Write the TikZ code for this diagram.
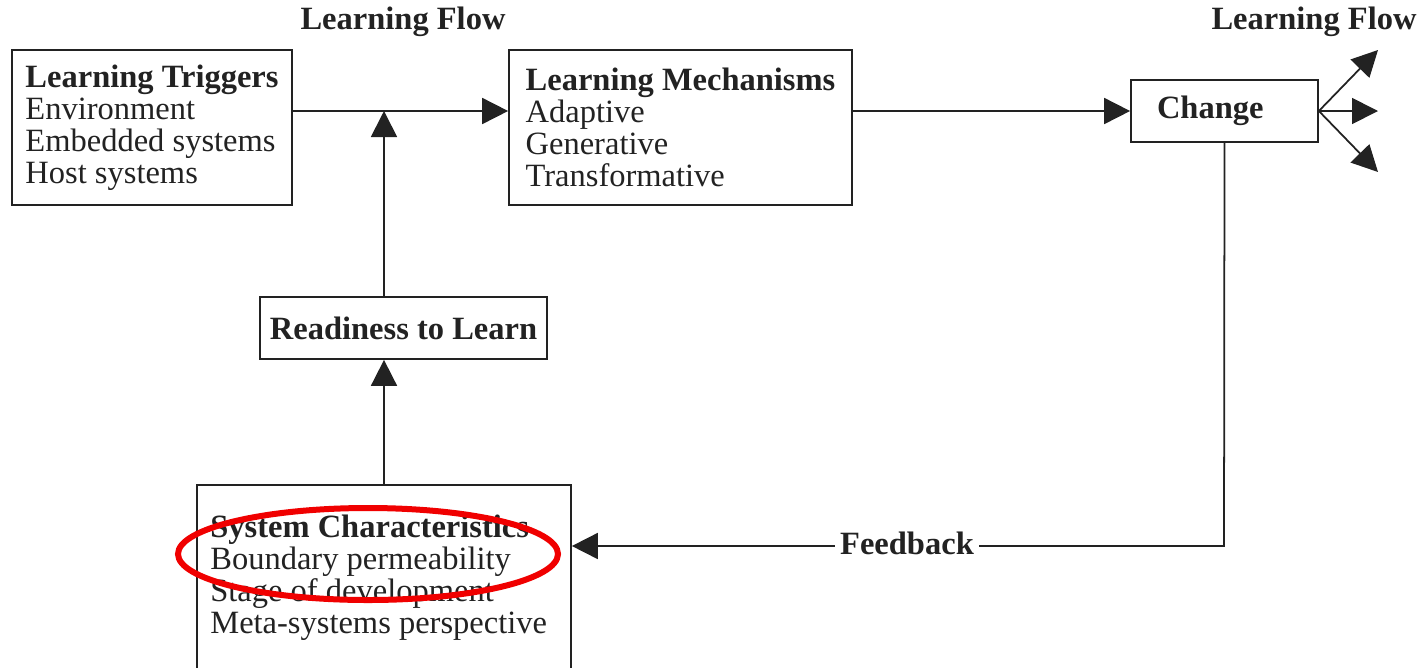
\documentclass[tikz,border=0pt]{standalone}
\usepackage{fontspec}
\setmainfont{Liberation Serif}
\usetikzlibrary{arrows.meta}
\definecolor{inkgray}{RGB}{34,34,34}
\definecolor{markred}{RGB}{240,0,0}

\begin{document}
\begin{tikzpicture}[x=0.02cm, y=-0.02cm,
    every node/.style={text=inkgray, font=\fontsize{18.5}{18.2}\selectfont},
    box/.style={draw=inkgray, line width=1pt, align=left, inner sep=0pt},
    flow/.style={draw=inkgray, line width=1pt, -{Triangle[length=0.52cm,width=0.52cm]}}]
    \useasboundingbox (0,0) rectangle (1426,667);

    % Learning Triggers
    \node[box, minimum width=5.6cm, minimum height=3.1cm] (trig) at (152,127.5) {
        \textbf{Learning Triggers}\\
        Environment\\
        Embedded systems\\
        Host systems};

    % Learning Mechanisms
    \node[box, minimum width=6.86cm, minimum height=3.1cm] (mech) at (680.5,127.5) {
        \textbf{Learning Mechanisms}\\
        Adaptive\\
        Generative\\
        Transformative};

    % Change
    \node[box, minimum width=3.74cm, minimum height=1.24cm, text width=2.7cm] (chg) at (1224.5,111) {\textbf{Change}};

    % Readiness to Learn
    \node[box, minimum width=5.74cm, minimum height=1.24cm] (ready) at (403.5,328) {\textbf{Readiness to Learn}};

    % System Characteristics
    \node[box, minimum width=7.48cm, minimum height=4.7cm, anchor=north] (sys) at (384,484) {};
    \node[align=left, inner sep=0pt, anchor=north west] (systxt) at (210,515) {
        \textbf{System Characteristics}\\
        Boundary permeability\\
        Stage of development\\
        Meta-systems perspective};

    % headings
    \node[font=\fontsize{18.5}{18.2}\selectfont\bfseries] (lf1) at (403,22) {Learning Flow};
    \node[font=\fontsize{18.5}{18.2}\selectfont\bfseries] (lf2) at (1314,22) {Learning Flow};

    % connectors
    \coordinate (jn) at (384,111);
    \coordinate (fb) at (1224,546);
    \coordinate (o1) at (1378,50);
    \coordinate (o2) at (1378,111);
    \coordinate (o3) at (1378,172);
    \draw[flow] (trig.east |- jn) -- (mech.west |- jn);
    \draw[flow] (ready.north -| jn) -- (jn);
    \draw[flow] (sys.north) -- (sys.north |- ready.south);
    \draw[flow] (mech.east |- jn) -- (chg.west);
    \draw[flow] (chg.east) -- (o1);
    \draw[flow] (chg.east) -- (o2);
    \draw[flow] (chg.east) -- (o3);
    \draw[flow] (chg.south) -- (fb) -- (fb -| sys.east);
    \node[fill=white, inner xsep=3pt, font=\fontsize{18.5}{18.2}\selectfont\bfseries] (fblab) at (907,543) {Feedback};

    % highlight
    \draw[markred, line width=0.12cm] (368,554) ellipse [x radius=190, y radius=46];
\end{tikzpicture}
\end{document}
